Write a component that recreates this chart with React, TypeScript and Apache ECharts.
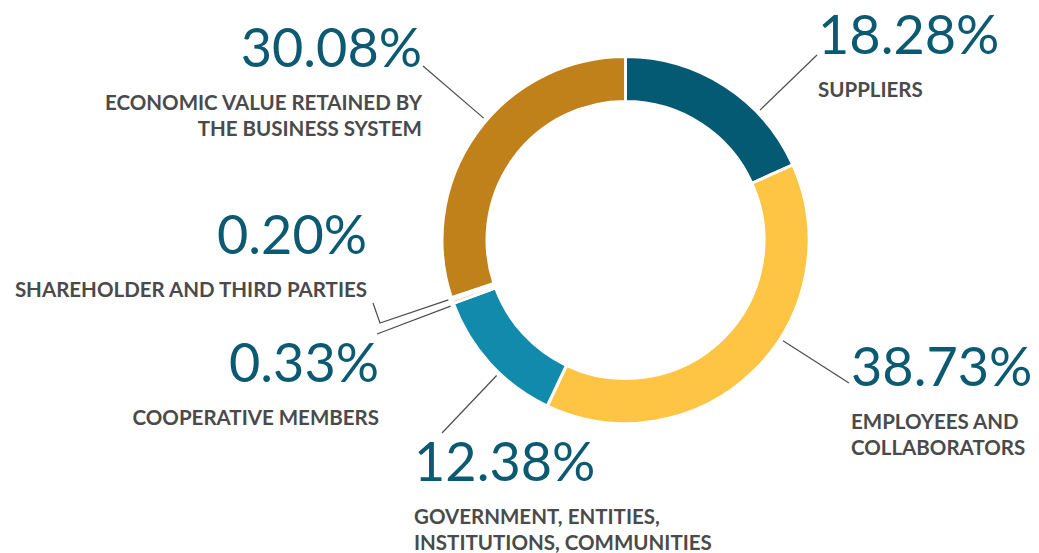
import React, { useEffect, useRef } from 'react';
import * as echarts from 'echarts';

const categories = [
  'SUPPLIERS',
  'EMPLOYEES AND\nCOLLABORATORS',
  'GOVERNMENT, ENTITIES,\nINSTITUTIONS, COMMUNITIES',
  'COOPERATIVE MEMBERS',
  'SHAREHOLDER AND THIRD PARTIES',
  'ECONOMIC VALUE RETAINED BY\nTHE BUSINESS SYSTEM',
];
const values = [18.28, 38.73, 12.38, 0.33, 0.2, 30.08];
const percentLabels = ['18.28%', '38.73%', '12.38%', '0.33%', '0.20%', '30.08%'];
const colors = ['#045a73', '#fdc543', '#128aab', '#e9b27a', '#f4d6b0', '#c0801a'];

const CENTER: [number, number] = [625.5, 240];
const LINE_START_R = 187;
const CAP_OFFSET = 25;

// label layout: x edge, top of the percentage, alignment, label-line waypoints
const placement = [
  { x: 818, capTop: 15, align: 'left', pts: [[817, 55]] },
  { x: 851, capTop: 347, align: 'left', pts: [[849, 383]] },
  { x: 414, capTop: 442, align: 'left', pts: [[442, 433]] },
  { x: 379, capTop: 343, align: 'right', pts: [[377, 334]] },
  { x: 367, capTop: 215, align: 'right', pts: [[380, 323], [373, 303]] },
  { x: 422, capTop: 28, align: 'right', pts: [[423, 66]] },
];

export default function App() {
  const ref = useRef<HTMLDivElement>(null);
  useEffect(() => {
    if (!ref.current) return;
    const chart = echarts.init(ref.current, undefined, { renderer: 'svg' });
    const data = values.map((v, i) => ({
      value: v,
      name: categories[i],
      itemStyle: { color: colors[i] },
      label: {
        formatter:
          `{p|${percentLabels[i]}}\n` +
          categories[i].split('\n').map((s) => `{n|${s}}`).join('\n'),
      },
    }));
    chart.setOption({
      animation: false,
      backgroundColor: '#ffffff',
      series: [
        {
          type: 'pie',
          center: CENTER,
          radius: [138.5, 183.5],
          startAngle: 90,
          clockwise: true,
          avoidLabelOverlap: false,
          silent: true,
          itemStyle: { borderColor: '#ffffff', borderWidth: 3 },
          emphasis: { disabled: true },
          label: {
            show: true,
            position: 'outside',
            rich: {
              p: {
                fontFamily: 'Lato',
                fontSize: 54,
                fontWeight: 'normal',
                lineHeight: 86,
                color: '#0b5a72',
              },
              n: {
                fontFamily: 'Lato',
                fontSize: 20.5,
                fontWeight: 'bold',
                lineHeight: 26,
                color: '#4a4a4a',
              },
            },
          },
          labelLine: {
            show: true,
            length: 10,
            length2: 10,
            lineStyle: { color: '#4d4d4d', width: 1.2 },
          },
          labelLayout: (params: any) => {
            const p = placement[params.dataIndex];
            const first = p.pts[0];
            const dx = first[0] - CENTER[0];
            const dy = first[1] - CENTER[1];
            const d = Math.sqrt(dx * dx + dy * dy);
            const start = [CENTER[0] + (dx / d) * LINE_START_R, CENTER[1] + (dy / d) * LINE_START_R];
            const pts = [start, ...p.pts];
            if (pts.length < 3) pts.push(p.pts[p.pts.length - 1]);
            return {
              x: p.x,
              y: p.capTop - CAP_OFFSET,
              align: p.align,
              verticalAlign: 'top',
              labelLinePoints: pts,
            };
          },
          data,
        },
      ],
    });
    return () => chart.dispose();
  }, []);
  return (
    <div
      ref={ref}
      style={{ position: 'fixed', left: 0, top: 0, width: 1039, height: 553 }}
    />
  );
}
